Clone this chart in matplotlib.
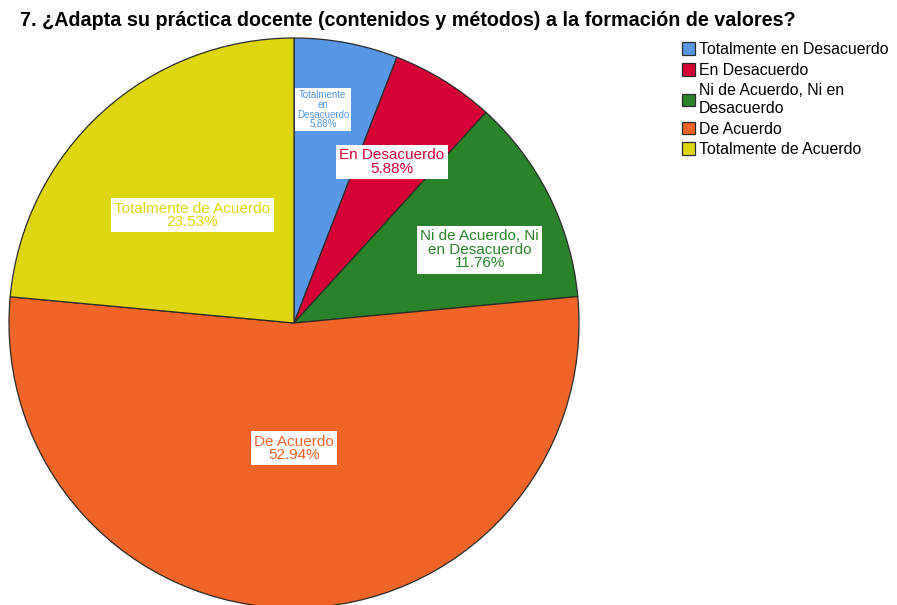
import matplotlib
matplotlib.use("Agg")
import matplotlib.pyplot as plt
import numpy as np

plt.rcParams['font.family'] = ['Liberation Sans', 'DejaVu Sans']

title = "7. ¿Adapta su práctica docente (contenidos y métodos) a la formación de valores?"
categories = ["Totalmente en Desacuerdo", "En Desacuerdo", "Ni de Acuerdo, Ni en Desacuerdo",
              "De Acuerdo", "Totalmente de Acuerdo"]
legend_labels = ["Totalmente en Desacuerdo", "En Desacuerdo", "Ni de Acuerdo, Ni en\nDesacuerdo",
                 "De Acuerdo", "Totalmente de Acuerdo"]
slice_labels = ["Totalmente\nen\nDesacuerdo", "En Desacuerdo", "Ni de Acuerdo, Ni\nen Desacuerdo",
                "De Acuerdo", "Totalmente de Acuerdo"]
values = [5.88, 5.88, 11.76, 52.94, 23.53]
colors = ["#5797E6", "#D60036", "#2A822A", "#F06428", "#E0D60E"]

W, H = 897, 605
fig = plt.figure(figsize=(W / 100, H / 100), dpi=100)
cx, cy, r = 294, 323, 285
ax = fig.add_axes([(cx - r) / W, (H - cy - r) / H, 2 * r / W, 2 * r / H])
wedges, _ = ax.pie(values, colors=colors, startangle=90, counterclock=False, radius=1,
                   wedgeprops=dict(edgecolor="#2a2a2a", linewidth=0.9))
ax.set_xlim(-1, 1)
ax.set_ylim(-1, 1)
ax.set_aspect('equal')
ax.axis('off')
for w in wedges:
    w.set_clip_on(False)

# label placement (radius fraction, angle offset in degrees, fontsize)
place = [(0.755, 2.85, 7), (0.66, 0.5, 11), (0.70, -5.0, 11), (0.44, 0.0, 11), (0.52, 1.0, 11)]
total = sum(values)
start = 90.0
for v, lab, col, (rf, da, fs) in zip(values, slice_labels, colors, place):
    span = 360 * v / total
    mid = start - span / 2 + da
    start -= span
    x = rf * np.cos(np.radians(mid))
    y = rf * np.sin(np.radians(mid))
    ax.text(x, y, f"{lab}\n{v:.2f}%", ha='center', va='center', fontsize=fs, color=col,
            linespacing=0.95,
            bbox=dict(boxstyle='square,pad=0.22', facecolor='white', edgecolor='none'))

fig.text(20 / W, 1 - 20 / H, title, ha='left', va='center', fontsize=14.2, fontweight='bold')

leg = fig.legend(wedges, legend_labels, loc='upper left', bbox_to_anchor=(682 / W, 1 - 42 / H),
                 frameon=False, fontsize=11.4, handlelength=0.85, handleheight=0.85,
                 handletextpad=0.2, labelspacing=0.36, borderaxespad=0, borderpad=0)
for h in leg.legend_handles:
    h.set_edgecolor("#2a2a2a")
    h.set_linewidth(0.9)

fig.savefig("out.png", dpi=100)
